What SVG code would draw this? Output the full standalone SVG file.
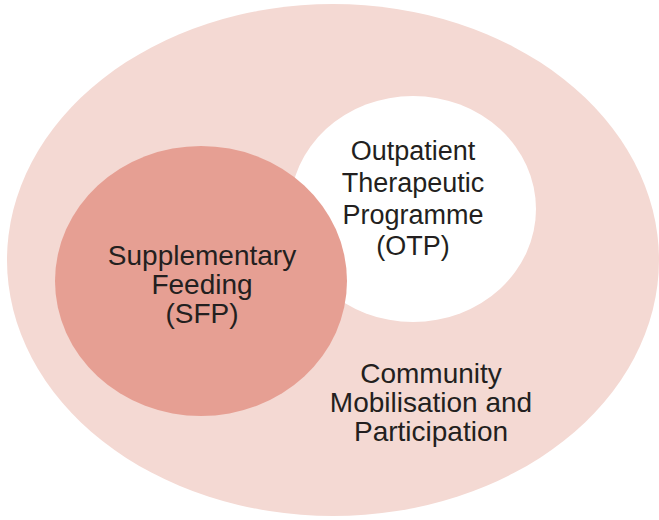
<svg xmlns="http://www.w3.org/2000/svg" width="659" height="520" viewBox="0 0 659 520">
<style>
text{font-family:"Liberation Sans",Arial,sans-serif;font-size:27px;fill:#231f20;text-anchor:middle}
.l{font-size:28px}
</style>
<rect width="659" height="520" fill="#ffffff"/>
<g id="cmp">
<ellipse cx="333" cy="260" rx="326" ry="256" fill="#f4d9d3"/>
<text class="l" x="431" y="383">Community</text>
<text class="l" x="431" y="412">Mobilisation and</text>
<text class="l" x="431" y="441">Participation</text>
</g>
<g id="otp">
<ellipse cx="413" cy="209" rx="123" ry="113" fill="#ffffff"/>
<text x="413" y="160">Outpatient</text>
<text x="413" y="192">Therapeutic</text>
<text x="413" y="224">Programme</text>
<text x="413" y="255">(OTP)</text>
</g>
<g id="sfp">
<ellipse cx="201" cy="281" rx="146" ry="135" fill="#e69f93"/>
<text class="l" x="202" y="265">Supplementary</text>
<text class="l" x="202" y="294">Feeding</text>
<text class="l" x="202" y="323">(SFP)</text>
</g>
<g id="connectors"/>
</svg>
